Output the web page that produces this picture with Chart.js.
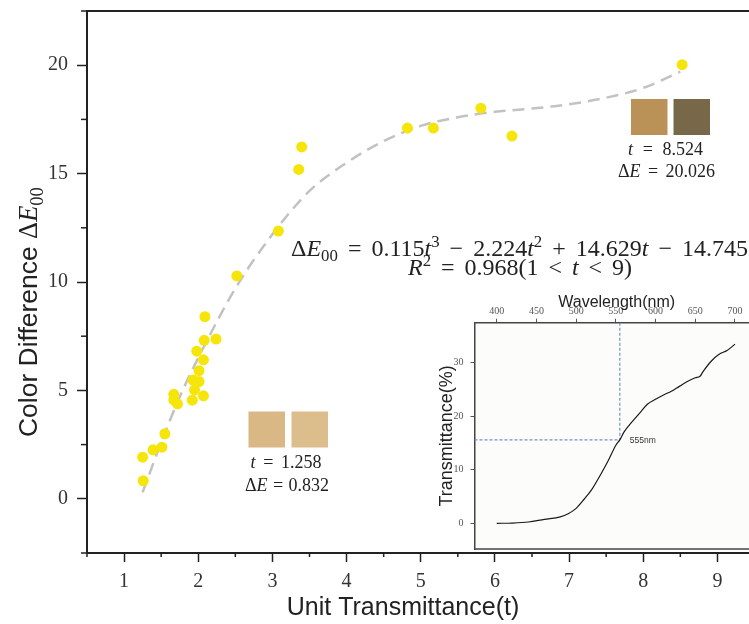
<!DOCTYPE html>
<html>
<head>
<meta charset="utf-8">
<script src="https://cdn.jsdelivr.net/npm/chart.js@4.4.1/dist/chart.umd.min.js"></script>
<style>
  html, body { margin: 0; padding: 0; background: #fff; overflow: hidden; width: 749px; height: 624px; }
  #wrap { position: relative; width: 749px; height: 624px; overflow: hidden; }
  #main { position: absolute; left: 0; top: 0; }
  #inset { position: absolute; left: 420px; top: 280px; }
</style>
</head>
<body>
<div id="wrap">
  <canvas id="main" width="760" height="624" style="width:760px;height:624px"></canvas>
  <canvas id="inset" width="345" height="275" style="width:345px;height:275px"></canvas>
</div>
<script>
// measured samples: unit transmittance t vs colour difference
const tValues = [1.258, 1.25, 1.39, 1.51, 1.55, 1.67, 1.67, 1.72, 1.92, 1.93, 1.95, 2.01, 2.01, 2.07,
  2.07, 1.98, 2.08, 2.24, 2.09, 2.52, 3.08, 3.355, 3.395, 4.82, 5.17, 5.81, 6.23, 8.524]
const deltaE = [0.832, 1.92, 2.26, 2.38, 3.00, 4.82, 4.56, 4.38, 4.55, 5.48, 5.02, 5.41, 5.91, 4.75,
  6.41, 6.81, 7.31, 7.37, 8.40, 10.28, 12.35, 15.19, 16.23, 17.10, 17.10, 18.02, 16.73, 20.026]

// dashed fit curve
const fitT = [1.25, 1.5, 1.75, 2, 2.5, 3, 3.5, 4, 4.5, 5, 5.5, 6, 6.5, 7, 7.5, 8, 8.5]
const fitDE = [0.3, 2.6, 4.7, 6.5, 9.7, 12.2, 14.2, 15.5, 16.5, 17.2, 17.6, 17.85, 18.0, 18.2, 18.5, 18.95, 19.7]

// inset: transmittance spectrum
const wavelengths = [400, 420, 440, 460, 480, 490, 500, 510, 520, 530, 540, 550, 555, 560, 570, 580,
  590, 600, 610, 620, 630, 640, 650, 656, 660, 670, 680, 690, 700]
const transmittance = [0, 0.05, 0.25, 0.75, 1.2, 1.8, 2.8, 4.5, 6.4, 8.9, 11.6, 14.6, 15.6, 17.0, 18.9, 20.6,
  22.3, 23.2, 24.0, 24.7, 25.6, 26.5, 27.2, 27.5, 28.4, 30.3, 31.6, 32.3, 33.5]
const wlTicks = [400, 450, 500, 550, 600, 650, 700]
const trTicks = [0, 10, 20, 30]
const markerWl = 555
const markerT = 15.6

const SERIF = '"Liberation Serif", "DejaVu Serif", serif'
const SANS = '"Liberation Sans", Arial, sans-serif'
const INK = '#222'

// mixed-font math text
function mathRuns(ctx, parts, size) {
  return parts.map(([text, style]) => {
    const small = style === 'sub' || style === 'sup'
    const fs = small ? size * 0.7 : size
    const fam = style === 'sans' ? SANS : SERIF
    const font = (style === 'i' ? 'italic ' : '') + fs + 'px ' + fam
    ctx.font = font
    const dy = style === 'sup' ? -size * 0.38 : style === 'sub' ? size * 0.22 : 0
    return { text, font, dy, w: ctx.measureText(text).width }
  })
}

// with a size: fixed font, spaces stretched to reach width; without: font scaled to width
function drawMath(ctx, parts, x, y, width, align, size) {
  let runs
  if (size) {
    runs = []
    parts.forEach(([text, style]) => {
      text.split(/( )/).forEach(piece => { if (piece) runs.push(...mathRuns(ctx, [[piece, style]], size)) })
    })
    const spaces = runs.filter(r => r.text === ' ')
    const extra = width - runs.reduce((a, r) => a + r.w, 0)
    if (spaces.length) spaces.forEach(r => { r.w = Math.max(1, r.w + extra / spaces.length) })
  } else {
    runs = mathRuns(ctx, parts, 20)
    const w0 = runs.reduce((a, r) => a + r.w, 0)
    runs = mathRuns(ctx, parts, 20 * width / w0)
  }
  let cx = align === 'center' ? x - width / 2 : x
  ctx.textBaseline = 'alphabetic'
  ctx.textAlign = 'left'
  runs.forEach(r => {
    ctx.font = r.font
    if (r.text !== ' ') ctx.fillText(r.text, cx, y + r.dy)
    cx += r.w
  })
}

const isMult = (v, m) => Math.abs(v / m - Math.round(v / m)) < 1e-6

const mainDecor = {
  id: 'mainDecor',
  afterDraw(chart) {
    const { ctx, chartArea: a, scales } = chart
    ctx.save()
    ctx.strokeStyle = INK
    ctx.lineWidth = 2
    ctx.beginPath()
    ctx.moveTo(a.left - 1, a.top)
    ctx.lineTo(a.right, a.top)
    ctx.stroke()

    // minor ticks
    ctx.lineWidth = 1.5
    scales.y.ticks.forEach(t => {
      if (isMult(t.value, 5)) return
      const py = scales.y.getPixelForValue(t.value)
      ctx.beginPath(); ctx.moveTo(a.left - 6, py); ctx.lineTo(a.left, py); ctx.stroke()
    })
    scales.x.ticks.forEach(t => {
      if (isMult(t.value, 1)) return
      const px = scales.x.getPixelForValue(t.value)
      ctx.beginPath(); ctx.moveTo(px, a.bottom); ctx.lineTo(px, a.bottom + 4); ctx.stroke()
    })

    ctx.fillStyle = INK
    // axis titles
    ctx.font = '25px ' + SANS
    ctx.textAlign = 'center'
    ctx.textBaseline = 'alphabetic'
    ctx.fillText('Unit Transmittance(t)', 403, 615)

    ctx.save()
    ctx.translate(37, 437)
    ctx.rotate(-Math.PI / 2)
    drawMath(ctx, [['Color Difference ', 'sans'], ['Δ', ''], ['E', 'i'], ['00', 'sub']], 0, 0, 250, 'left')
    ctx.restore()

    // fitted equation
    drawMath(ctx, [['Δ', ''], ['E', 'i'], ['00', 'sub'], [' = 0.115', ''], ['t', 'i'], ['3', 'sup'],
      [' − 2.224', ''], ['t', 'i'], ['2', 'sup'], [' + 14.629', ''], ['t', 'i'], [' − 14.745', '']],
      291, 256, 457, 'left', 24)
    drawMath(ctx, [['R', 'i'], ['2', 'sup'], [' = 0.968(1 < ', ''], ['t', 'i'], [' < 9)', '']],
      408, 275, 224, 'left', 24)

    // colour swatches
    const sw = [
      [248.5, 411.5, '#dab885'], [291.5, 411.5, '#dcbe8c'],
      [631, 99, '#ba9258'], [673.5, 99, '#78684a']
    ]
    sw.forEach(([x, y, c]) => {
      ctx.fillStyle = c
      ctx.fillRect(x, y, 36.5, 36)
    })
    ctx.fillStyle = INK
    drawMath(ctx, [['t', 'i'], [' = 1.258', '']], 286, 468, 71, 'center', 18)
    drawMath(ctx, [['Δ', ''], ['E', 'i'], [' = 0.832', '']], 287, 490.5, 84, 'center', 18)
    drawMath(ctx, [['t', 'i'], [' = 8.524', '']], 665.5, 155, 75, 'center', 18)
    drawMath(ctx, [['Δ', ''], ['E', 'i'], [' = 20.026', '']], 666.5, 177, 97, 'center', 18)
    ctx.restore()
  }
}

new Chart(document.getElementById('main'), {
  type: 'scatter',
  data: {
    datasets: [
      {
        type: 'scatter',
        data: tValues.map((t, i) => ({ x: t, y: deltaE[i] })),
        backgroundColor: '#f5e50a',
        borderWidth: 0,
        pointRadius: 5.5,
        order: 0
      },
      {
        type: 'line',
        data: fitT.map((t, i) => ({ x: t, y: fitDE[i] })),
        borderColor: '#c2c2c2',
        borderWidth: 2.5,
        borderDash: [12, 7],
        pointRadius: 0,
        cubicInterpolationMode: 'monotone',
        fill: false,
        order: 1
      }
    ]
  },
  options: {
    responsive: false,
    animation: false,
    layout: { padding: { top: 11, right: 2, left: 0, bottom: 0 } },
    plugins: { legend: { display: false }, tooltip: { enabled: false } },
    scales: {
      x: {
        type: 'linear', min: 0.5, max: 9.5,
        ticks: {
          stepSize: 0.5, autoSkip: false, maxRotation: 0, padding: 8,
          callback: v => isMult(v, 1) ? String(Math.round(v)) : '',
          font: { family: SERIF, size: 20 }, color: '#333'
        },
        grid: {
          drawOnChartArea: false, tickLength: 9, tickWidth: 1.5,
          tickColor: c => isMult(c.tick.value, 1) ? INK : 'rgba(0,0,0,0)'
        },
        border: { color: INK, width: 2 },
        afterFit: s => { s.height = 71; s.paddingLeft = 0; s.paddingRight = 0 }
      },
      y: {
        min: -2.5, max: 22.5,
        ticks: {
          stepSize: 2.5, autoSkip: false, padding: 9,
          callback: v => isMult(v, 5) ? String(Math.round(v)) : '',
          font: { family: SERIF, size: 20 }, color: '#333'
        },
        grid: {
          drawOnChartArea: false, tickLength: 10, tickWidth: 1.5,
          tickColor: c => isMult(c.tick.value, 5) ? INK : 'rgba(0,0,0,0)'
        },
        border: { color: INK, width: 2 },
        afterFit: s => { s.width = 87; s.paddingTop = 0; s.paddingBottom = 0 }
      }
    }
  },
  plugins: [mainDecor]
})

const insetDecor = {
  id: 'insetDecor',
  beforeDraw(chart) {
    const { ctx, chartArea: a } = chart
    ctx.save()
    ctx.fillStyle = '#fcfcfa'
    ctx.fillRect(a.left, a.top, a.right - a.left, a.bottom - a.top)
    ctx.restore()
  },
  afterDraw(chart) {
    const { ctx, chartArea: a, scales } = chart
    ctx.save()
    ctx.strokeStyle = '#444'
    ctx.lineWidth = 1.5
    ctx.beginPath()
    ctx.moveTo(a.left, a.bottom); ctx.lineTo(a.right, a.bottom); ctx.lineTo(a.right, a.top)
    ctx.stroke()

    ctx.fillStyle = INK
    ctx.font = '16px ' + SANS
    ctx.textAlign = 'center'
    ctx.textBaseline = 'alphabetic'
    ctx.fillText('Wavelength(nm)', (a.left + a.right) / 2, 27)

    ctx.save()
    ctx.translate(32, (a.top + a.bottom) / 2)
    ctx.rotate(-Math.PI / 2)
    ctx.font = '18px ' + SANS
    ctx.fillText('Transmittance(%)', 0, 0)
    ctx.restore()

    ctx.font = '8.5px ' + SANS
    ctx.fillStyle = '#333'
    ctx.textAlign = 'left'
    ctx.textBaseline = 'middle'
    ctx.fillText(markerWl + 'nm', scales.x.getPixelForValue(markerWl) + 10, scales.y.getPixelForValue(markerT) + 1)
    ctx.restore()
  }
}

new Chart(document.getElementById('inset'), {
  type: 'line',
  data: {
    datasets: [
      {
        data: wavelengths.map((w, i) => ({ x: w, y: transmittance[i] })),
        borderColor: '#1a1a1a', borderWidth: 1.2, pointRadius: 0,
        cubicInterpolationMode: 'monotone', order: 0
      },
      {
        data: [{ x: markerWl, y: 37.5 }, { x: markerWl, y: markerT }],
        borderColor: '#7390c8', borderWidth: 1.2, borderDash: [3, 2], pointRadius: 0, order: 1
      },
      {
        data: [{ x: 372, y: markerT }, { x: markerWl, y: markerT }],
        borderColor: '#7390c8', borderWidth: 1.2, borderDash: [3, 2], pointRadius: 0, order: 1
      }
    ]
  },
  options: {
    responsive: false,
    animation: false,
    layout: { padding: { top: 0, left: 0, right: 6.2, bottom: 6 } },
    plugins: { legend: { display: false }, tooltip: { enabled: false } },
    scales: {
      x: {
        type: 'linear', position: 'top', min: 372, max: 730,
        afterBuildTicks: s => { s.ticks = wlTicks.map(v => ({ value: v })) },
        ticks: { autoSkip: false, maxRotation: 0, padding: 1, font: { family: SERIF, size: 10 }, color: '#555' },
        grid: { drawOnChartArea: false, tickLength: 4, tickWidth: 1, tickColor: '#555' },
        border: { color: '#444', width: 1.5 },
        afterFit: s => { s.height = 42.7; s.paddingLeft = 0; s.paddingRight = 0 }
      },
      y: {
        min: -4.8, max: 37.5,
        afterBuildTicks: s => { s.ticks = trTicks.map(v => ({ value: v })) },
        ticks: { autoSkip: false, padding: 7, font: { family: SERIF, size: 10 }, color: '#555' },
        grid: { drawOnChartArea: false, tickLength: 4, tickWidth: 1, tickColor: '#555' },
        border: { color: '#444', width: 1.5 },
        afterFit: s => { s.width = 54.5; s.paddingTop = 0; s.paddingBottom = 0 }
      }
    }
  },
  plugins: [insetDecor]
})
</script>
</body>
</html>
